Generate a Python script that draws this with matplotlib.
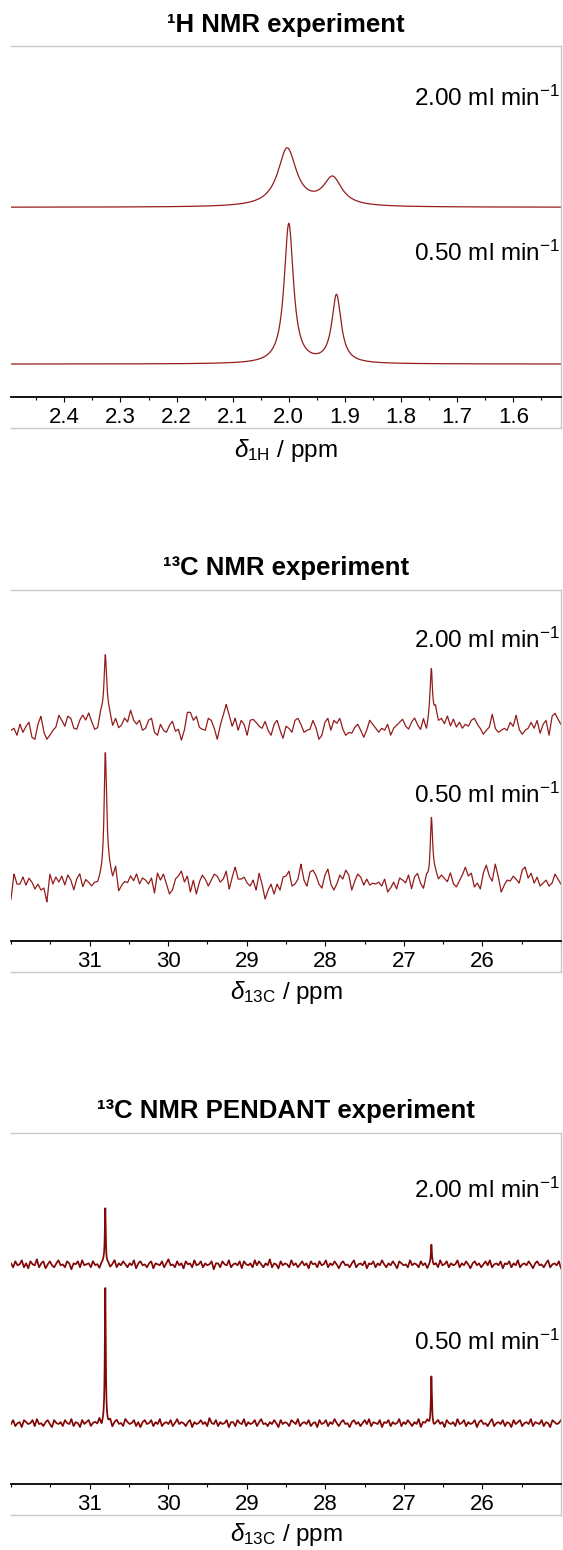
import matplotlib

matplotlib.use("Agg")

import matplotlib.pyplot as plt
import numpy as np
from matplotlib.ticker import FixedLocator, FormatStrFormatter, MultipleLocator

plt.rcParams["font.family"] = ["Liberation Sans", "DejaVu Sans"]
plt.rcParams["mathtext.fontset"] = "custom"
plt.rcParams["mathtext.rm"] = "Liberation Sans"
plt.rcParams["mathtext.it"] = "Liberation Sans:italic"
plt.rcParams["mathtext.bf"] = "Liberation Sans:bold"

LINE = "#941c1c"
LINE_PEND = "#820808"
FRAME = "#c8c8c8"

flow_labels = ["2.00 ml min$^{-1}$", "0.50 ml min$^{-1}$"]

h1_ticks = [2.4, 2.3, 2.2, 2.1, 2.0, 1.9, 1.8, 1.7, 1.6]
c13_ticks = [31, 30, 29, 28, 27, 26]

# 1H peaks: centre (ppm), height (a.u.), half width (ppm)
h1_centres_2ml = [2.003, 1.922]
h1_heights_2ml = [58, 28]
h1_widths_2ml = [0.020, 0.020]
h1_centres_05ml = [2.000, 1.915]
h1_heights_05ml = [140, 68]
h1_widths_05ml = [0.010, 0.010]

# 13C peaks
c13_centres = [30.80, 26.65]
c13_heights_2ml = [55, 53]
c13_heights_05ml = [114, 60]
c13_widths = [0.018, 0.018]

# 13C baseline noise, every ~3 px (32 -> 25 ppm)
c13_noise_2ml = [
    -3, -1, -8, 3, -5, 1, 5, -10, -12, 3, 11, -5, -12, -8, -3, 0, 12, 7, 1, 11,
    9, -1, -2, 7, 12, 7, 14, 5, -3, -2, 13, 15, 20, 13, 0, 8, -1, 2, 9, 5,
    17, 7, 3, 7, -3, -1, 7, 9, -5, -8, 3, -3, -5, 2, 6, -4, -2, -13, -3, 15,
    15, 7, 11, 0, -2, -3, 9, 7, -1, -12, 2, 12, 23, 12, 1, 9, -3, 7, 3, -8,
    7, 8, 5, 1, -1, 6, -3, -8, 3, 7, -3, -11, 1, -1, -5, 7, 9, 3, -5, -3,
    -2, 7, 0, -12, -8, 5, 9, -3, 7, 4, 9, -2, -8, -5, -6, 0, 3, -3, -10, -3,
    7, 3, -1, -5, -1, -3, 3, -8, -1, 2, 5, 8, 1, -2, 5, 9, 2, -3, 7, -5,
    7, 5, 17, 5, 8, 3, 11, 1, 8, 0, 5, -1, 3, 1, 7, 9, 3, -1, -7, -3,
    0, 13, -1, -5, -3, -1, -3, 5, 1, 12, -2, -7, -3, -1, 5, -1, 7, -6, 3, 7,
    -8, 11, 14, 8, 3,
]
c13_noise_05ml = [
    -17, 8, -2, -2, 5, -3, 4, 0, -7, -2, -8, -6, -20, 8, -2, 5, 0, 6, -3, 7,
    2, -8, 3, 8, -5, 2, -1, -5, -2, -3, 3, 8, 22, 12, 2, 14, -10, -4, 0, -1,
    6, 1, 8, -2, 4, 2, -2, 4, -11, 9, 2, 8, -2, -12, -8, 3, 6, 11, 0, 6,
    -10, 2, -12, 0, 7, 3, -4, 2, 8, 6, 0, 3, 11, -7, 5, 15, 3, 3, 5, -1,
    -4, 2, -8, 9, -2, -17, -8, -2, -12, -2, -8, 5, 6, 11, -4, -2, 3, 18, 2, -4,
    10, 12, 7, -2, -6, 7, 13, -2, -8, -2, 7, 3, 12, 7, -8, 1, 8, 5, -3, 3,
    -3, -1, -2, 0, -4, 3, -10, -6, 0, -7, 4, 2, -1, 7, -7, 5, 8, -2, -8, 4,
    -1, 8, 8, 1, 6, 3, 0, 9, -2, -5, 1, 7, 15, 6, 9, -5, -1, -7, 9, 17,
    6, 1, 18, 6, -10, -3, 2, 1, 6, 3, -1, 12, 15, 4, 9, -1, 5, -4, -1, 2,
    -4, -1, 8, 3, -2,
]

# 13C PENDANT peaks
pend_heights_2ml = [56, 17]
pend_heights_05ml = [135, 46]
pend_widths = [0.007, 0.007]

# PENDANT baseline noise, every ~2 px
pend_noise_2ml = [
    1, -3, 3, -1, 0, 4, -3, 1, -4, 3, 0, -1, 5, -3, 1, 3, -4, 0, 3, -1,
    -3, 1, 4, -1, 0, -3, 3, 1, -5, 1, 0, 3, -3, 4, -1, 0, 1, -3, 3, -1,
    0, -4, 1, 3, -1, 1, -3, 0, 4, -3, 1, -1, 3, 0, -3, 1, -1, 4, -4, 1,
    3, -1, 0, -3, 1, 3, -4, 1, 0, -1, 3, -3, 1, 5, -1, 0, -3, 3, -1, 1,
    -4, 3, 0, 1, -3, 4, -1, 0, 3, -3, 1, -1, 0, 3, -5, 1, 1, -3, 3, 0,
    -1, 4, -3, 0, 1, -1, 3, -4, 3, 0, -1, 1, -3, 4, -1, 3, 0, -3, 1, -1,
    5, -3, 1, 0, -4, 3, -1, 1, 0, -3, 4, -1, 1, -3, 0, 3, -1, 1, -4, 3,
    0, 1, -3, 3, -1, 0, 4, -3, 1, -1, 3, 0, -4, 1, 3, -1, 0, -3, 1, 4,
    -3, 0, 1, -1, 3, -4, 1, 0, 3, -3, 1, -1, 4, 0, -3, 1, -1, 3, 0, -4,
    3, 1, -1, 0, -3, 4, -1, 1, 0, -3, 3, -1, 1, -4, 0, 3, -1, 1, -3, 4,
    -1, 0, 3, -3, 1, -1, 0, 4, -3, 1, -1, 3, 0, -4, 1, 3, -1, 1, -3, 0,
    3, -1, 4, -3, 0, 1, -1, 3, -4, 1, 0, 3, -3, 1, -1, 4, -3, 0, 1, -1,
    3, 0, -4, 1, 3, -1, 0, -3, 1, 4, -3, 0, 1, -1, 3, -4,
]
pend_noise_05ml = [
    -1, 3, -3, 0, 1, -4, 3, 1, -1, 0, 3, -3, 4, -1, 0, -3, 1, 3, -1, -4,
    3, 0, -1, 1, -3, 3, 0, -1, 4, -3, 1, 0, -4, 3, -1, 1, 3, -3, 0, 1,
    -1, 4, -3, 1, 0, -1, 3, -4, 1, 3, -1, 0, -3, 4, 1, -1, 0, 3, -3, 1,
    -4, 1, 3, -1, 0, 3, -3, 1, -1, 4, -3, 0, 1, -1, 3, -3, 0, 4, -1, 1,
    0, -3, 1, 3, -4, 1, -1, 0, 3, -1, 1, -3, 5, 0, -1, 3, -3, 1, -1, 0,
    3, -4, 1, 1, -3, 3, 0, -1, 4, -3, 1, -1, 0, 3, -3, 1, 4, -1, 0, -3,
    1, -1, 3, 0, -4, 3, -1, 1, 0, -3, 3, 1, -1, 4, -3, 0, 1, -1, 3, -3,
    0, 1, -4, 3, -1, 0, 3, -3, 1, -1, 4, 0, -3, 1, 3, -1, 0, -4, 1, 3,
    -1, 1, -3, 0, 3, -1, 4, -3, 1, 0, -1, 3, -4, 1, 0, 3, -3, 1, -1, 0,
    4, -3, 1, -1, 3, 0, -3, 1, -1, 4, -4, 1, 0, 3, -1, 1, -3, 0, 3, -1,
    1, -4, 3, 0, -1, 1, -3, 4, -1, 0, 3, -3, 1, -1, 0, 3, -4, 1, 3, -1,
    0, -3, 1, 4, -3, 0, 1, -1, 3, -3, 1, 0, -4, 3, -1, 1, 3, -3, 0, 1,
    -1, 4, -3, 1, 0, -1, 3, -3, 1, 0, -4, 3, 1, -1, 0, 3,
]

H1_LIM = (2.495, 1.515)
C13_LIM = (32.0, 25.0)
AX_H = 383.0  # y units per panel (roughly one unit per pixel)


def lorentz(x, centres, heights, widths):
    y = np.zeros_like(x)
    for c, h, w in zip(centres, heights, widths):
        y += h * w**2 / ((x - c) ** 2 + w**2)
    return y


def trace(x, lim, noise, centres, heights, widths):
    grid = np.linspace(lim[0], lim[1], len(noise))
    base = np.interp(x, grid[::-1], np.asarray(noise, float)[::-1])
    return base + lorentz(x, centres, heights, widths)


def style_axes(ax, lim, ticks, minor, fmt):
    ax.set_xlim(*lim)
    ax.set_ylim(0, AX_H)
    ax.set_yticks([])
    ax.spines["left"].set_visible(False)
    for side in ("top", "right"):
        ax.spines[side].set_color(FRAME)
        ax.spines[side].set_linewidth(1.0)
    ax.spines["bottom"].set_position(("axes", 0.081))
    ax.spines["bottom"].set_linewidth(1.3)
    ax.axhline(0, color=FRAME, lw=1.0, clip_on=False)
    ax.xaxis.set_major_locator(FixedLocator(ticks))
    ax.xaxis.set_minor_locator(MultipleLocator(minor))
    ax.xaxis.set_major_formatter(FormatStrFormatter(fmt))
    ax.tick_params(axis="x", which="major", length=3.5, width=0.8, pad=4, labelsize=16)
    ax.tick_params(axis="x", which="minor", length=2.5, width=0.8)


def add_labels(ax, y_top, y_bottom):
    for text, y in zip(flow_labels, (y_top, y_bottom)):
        ax.text(0.998, y / AX_H, text, transform=ax.transAxes, ha="right",
                va="center", fontsize=17.5)


fig = plt.figure(figsize=(5.63, 15.5), dpi=100)
left, width = 11 / 563, 550 / 563
panel_bottoms = [1 - 428 / 1550, 1 - 972 / 1550, 1 - 1515 / 1550]
panel_h = 382.5 / 1550

# 1H panel
ax1 = fig.add_axes([left, panel_bottoms[0], width, panel_h])
x = np.linspace(H1_LIM[0], H1_LIM[1], 4000)
ax1.plot(x, 221 + lorentz(x, h1_centres_2ml, h1_heights_2ml, h1_widths_2ml), color=LINE, lw=0.9)
ax1.plot(x, 64 + lorentz(x, h1_centres_05ml, h1_heights_05ml, h1_widths_05ml), color=LINE, lw=0.9)
style_axes(ax1, H1_LIM, h1_ticks, 0.05, "%.1f")
add_labels(ax1, 330, 175)

# 13C panel
ax2 = fig.add_axes([left, panel_bottoms[1], width, panel_h])
x = np.linspace(C13_LIM[0], C13_LIM[1], 7001)
ax2.plot(x, 245 + trace(x, C13_LIM, c13_noise_2ml, c13_centres, c13_heights_2ml, c13_widths), color=LINE, lw=0.9)
ax2.plot(x, 90 + trace(x, C13_LIM, c13_noise_05ml, c13_centres, c13_heights_05ml, c13_widths), color=LINE, lw=0.9)
style_axes(ax2, C13_LIM, c13_ticks, 0.5, "%d")
add_labels(ax2, 332, 177)

# 13C PENDANT panel
ax3 = fig.add_axes([left, panel_bottoms[2], width, panel_h])
x = np.linspace(C13_LIM[0], C13_LIM[1], 14001)
ax3.plot(x, 251 + trace(x, C13_LIM, pend_noise_2ml, c13_centres, pend_heights_2ml, pend_widths), color=LINE_PEND, lw=1.25)
ax3.plot(x, 92 + trace(x, C13_LIM, pend_noise_05ml, c13_centres, pend_heights_05ml, pend_widths), color=LINE_PEND, lw=1.25)
style_axes(ax3, C13_LIM, c13_ticks, 0.5, "%d")
add_labels(ax3, 325, 173)

cx = left + width / 2
titles = ["\u00b9H NMR experiment", "\u00b9\u00b3C NMR experiment", "\u00b9\u00b3C NMR PENDANT experiment"]
title_y = [25, 568, 1111]
xlabels = [r"$\delta_{\mathrm{1H}}$ / ppm", r"$\delta_{\mathrm{13C}}$ / ppm", r"$\delta_{\mathrm{13C}}$ / ppm"]
xlabel_y = [450, 993, 1534]
for t, ty, xl, xy in zip(titles, title_y, xlabels, xlabel_y):
    fig.text(cx, 1 - ty / 1550, t, ha="center", va="center", fontsize=18.5, fontweight="bold")
    fig.text(cx, 1 - xy / 1550, xl, ha="center", va="center", fontsize=17.5)

fig.savefig("out.png", dpi=100)
plt.close(fig)
